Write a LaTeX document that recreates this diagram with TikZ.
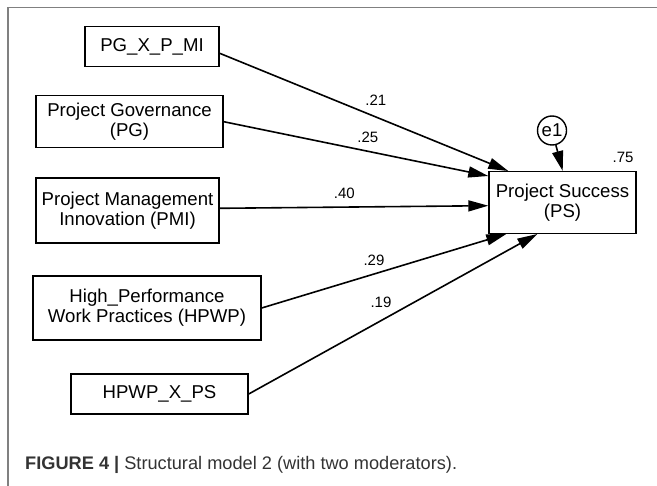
\documentclass[tikz,border=0pt]{standalone}
\usepackage{fontspec}
\setmainfont{Liberation Sans}
\usetikzlibrary{arrows.meta}

\tikzset{
  var/.style={draw=black, line width=1.4bp, inner sep=0pt, align=center,
    font=\fontsize{18.6bp}{20bp}\selectfont},
  err/.style={draw=black, line width=1.4bp, circle, inner sep=0pt,
    minimum size=29bp, font=\fontsize{18.6bp}{20bp}\selectfont},
  path/.style={draw=black, line width=1.6bp,
    -{Triangle[length=20bp,width=11bp]}},
  coef/.style={font=\fontsize{15bp}{16bp}\selectfont, inner sep=0pt},
}

\begin{document}
\begin{tikzpicture}[x=1bp, y=-1bp]
  \useasboundingbox (0,0) rectangle (657,486);

  % frame
  \draw[draw=black!50, line width=1.2bp] (8,486) -- (8,7.3) -- (657,7.3);

  % observed variables
  \node[var, minimum width=134bp, minimum height=40bp] (mi)   at (152,46.7)  {PG\_X\_P\_MI};
  \node[var, minimum width=187bp, minimum height=52bp] (pg)   at (129.5,121.7) {Project Governance\\(PG)};
  \node[var, minimum width=183bp, minimum height=65bp] (pmi)  at (127.5,210.5) {Project Management\\Innovation (PMI)};
  \node[var, minimum width=228bp, minimum height=64bp] (hpwp) at (147,308)   {High\_Performance\\Work Practices (HPWP)};
  \node[var, minimum width=177bp, minimum height=40bp] (hx)   at (159.5,394) {HPWP\_X\_PS};
  \node[var, minimum width=147bp, minimum height=61.6bp] (ps) at (562.5,202.5) {Project Success\\(PS)};

  % error term
  \node[err] (e1) at (552,130.5) {e1};

  % regression paths
  \draw[path] ([yshift=-6.6bp]mi.east) -- ([xshift=20bp]ps.north west);
  \draw[path] (pg.east) -- ([yshift=-5bp]ps.north west);
  \draw[path] ([yshift=2.2bp]pmi.east) -- ([yshift=-3.2bp]ps.west);
  \draw[path] (hpwp.east) -- ([xshift=18bp]ps.south west);
  \draw[path] (hx.east) -- ([xshift=49bp]ps.south west);
  \draw[path] (e1) -- ([xshift=0.2bp]ps.north);

  % estimates
  \node[coef] (c21) at (375.8,100)   {.21};
  \node[coef] (c25) at (367.8,137.7) {.25};
  \node[coef] (c40) at (344.4,193.3) {.40};
  \node[coef] (c29) at (374,260)     {.29};
  \node[coef] (c19) at (381,302.3)   {.19};
  \node[coef] (r2)  at (623,157.7)   {.75};

  % caption
  \node[anchor=base west, inner sep=0pt, text=black!80,
        font=\fontsize{18.2bp}{20bp}\selectfont] (cap) at (25,469.5)
    {\textbf{FIGURE 4 |} Structural model 2 (with two moderators).};
\end{tikzpicture}
\end{document}
